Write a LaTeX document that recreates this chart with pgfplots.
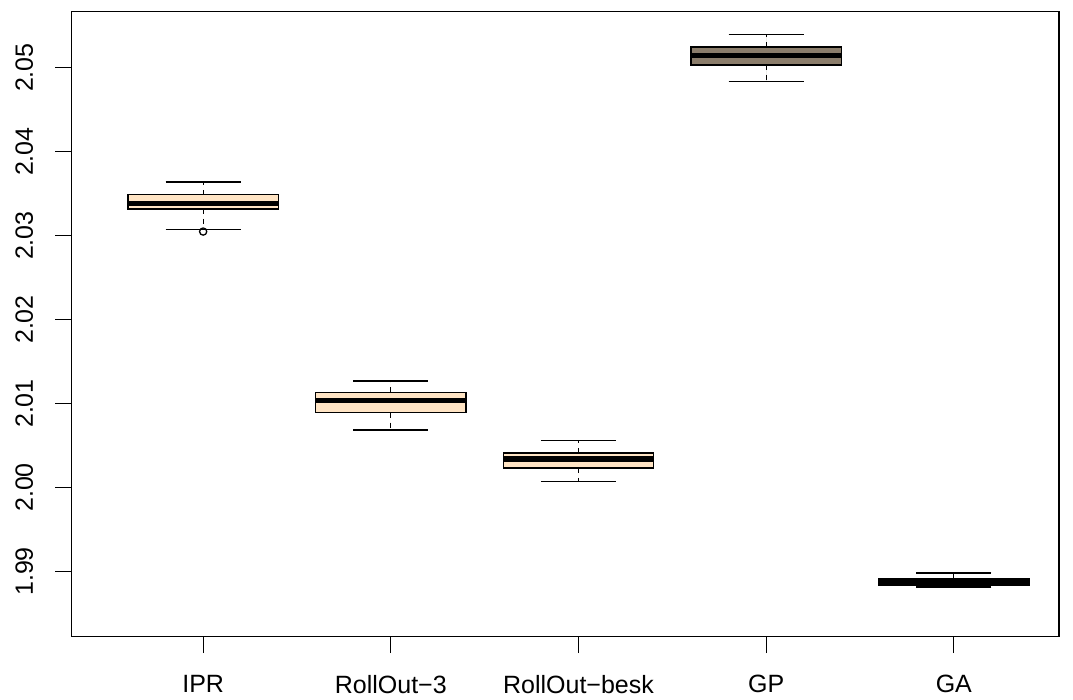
\documentclass[border=0pt]{standalone}
\usepackage{fontspec}
\setmainfont{Liberation Sans}
\usepackage{pgfplots}
\pgfplotsset{compat=1.18}
\usepgfplotslibrary{statistics}
\definecolor{bisque}{HTML}{FFE4C4}
\definecolor{bisquefour}{HTML}{8B7D6B}
\definecolor{bisquethree}{HTML}{CDB79E}
% y values are stored as (value - 2) * 100, i.e. 2.03385 -> 3.385
\begin{document}
\begin{tikzpicture}
\useasboundingbox (-71.7pt,-63.3pt) rectangle (1001.3pt,636.7pt);
\begin{axis}[
  scale only axis, width=987.3pt, height=625pt,
  xmin=0.2995, xmax=5.5605, ymin=-1.7768, ymax=5.6667,
  axis line style={line width=1.3pt, black},
  xtick={1,2,3,4,5},
  xticklabels={IPR,RollOut−3,RollOut−besk,GP,GA},
  ytick={-1,0,1,2,3,4,5},
  yticklabels={1.99,2.00,2.01,2.02,2.03,2.04,2.05},
  xtick pos=bottom, ytick pos=left, tick align=outside,
  major tick length=16.5pt,
  tick style={line width=1.3pt, black},
  ticklabel style={font=\fontsize{25}{30}\selectfont},
  yticklabel style={rotate=90, anchor=south, inner sep=0pt, outer ysep=22pt},
  xticklabel style={anchor=north, inner sep=0pt, outer ysep=22pt},
  boxplot/draw direction=y,
  boxplot/box extend=0.8,
  boxplot/whisker extend=0.4,
  boxplot/every median/.style={line width=5.5pt, black},
  boxplot/draw/lower whisker/.code={%
    \draw[line width=1.3pt, dash pattern=on 5pt off 5pt]
      (boxplot box cs:\pgfplotsboxplotvalue{lower quartile},0.5) --
      (boxplot box cs:\pgfplotsboxplotvalue{lower whisker},0.5);
    \draw[line width=1.4pt] (boxplot whisker cs:\pgfplotsboxplotvalue{lower whisker},0) --
      (boxplot whisker cs:\pgfplotsboxplotvalue{lower whisker},1);
  },
  boxplot/draw/upper whisker/.code={%
    \draw[line width=1.3pt, dash pattern=on 5pt off 5pt]
      (boxplot box cs:\pgfplotsboxplotvalue{upper quartile},0.5) --
      (boxplot box cs:\pgfplotsboxplotvalue{upper whisker},0.5);
    \draw[line width=1.4pt] (boxplot whisker cs:\pgfplotsboxplotvalue{upper whisker},0) --
      (boxplot whisker cs:\pgfplotsboxplotvalue{upper whisker},1);
  },
]
\addplot[boxplot prepared={lower whisker=3.075, lower quartile=3.318,
   median=3.380, upper quartile=3.488, upper whisker=3.639, draw position=1},
   draw=black, fill=bisque, line width=1.4pt,
   mark=o, mark size=3.6pt, mark options={solid, line width=1.3pt}]
   coordinates {(1,3.048)};
\addplot[boxplot prepared={lower whisker=0.687, lower quartile=0.893,
   median=1.039, upper quartile=1.134, upper whisker=1.270, draw position=2},
   draw=black, fill=bisque, line width=1.4pt, mark=none]
   coordinates {};
\addplot[boxplot prepared={lower whisker=0.075, lower quartile=0.234,
   median=0.342, upper quartile=0.413, upper whisker=0.560, draw position=3},
   draw=black, fill=bisque, line width=1.4pt, mark=none]
   coordinates {};
\addplot[boxplot prepared={lower whisker=4.837, lower quartile=5.032,
   median=5.143, upper quartile=5.246, upper whisker=5.393, draw position=4},
   draw=black, fill=bisquefour, line width=1.4pt, mark=none]
   coordinates {};
\addplot[boxplot prepared={lower whisker=-1.187, lower quartile=-1.170,
   median=-1.131, upper quartile=-1.090, upper whisker=-1.017, draw position=5},
   draw=black, fill=black, line width=1.4pt, mark=none]
   coordinates {};
\end{axis}
\end{tikzpicture}
\end{document}
